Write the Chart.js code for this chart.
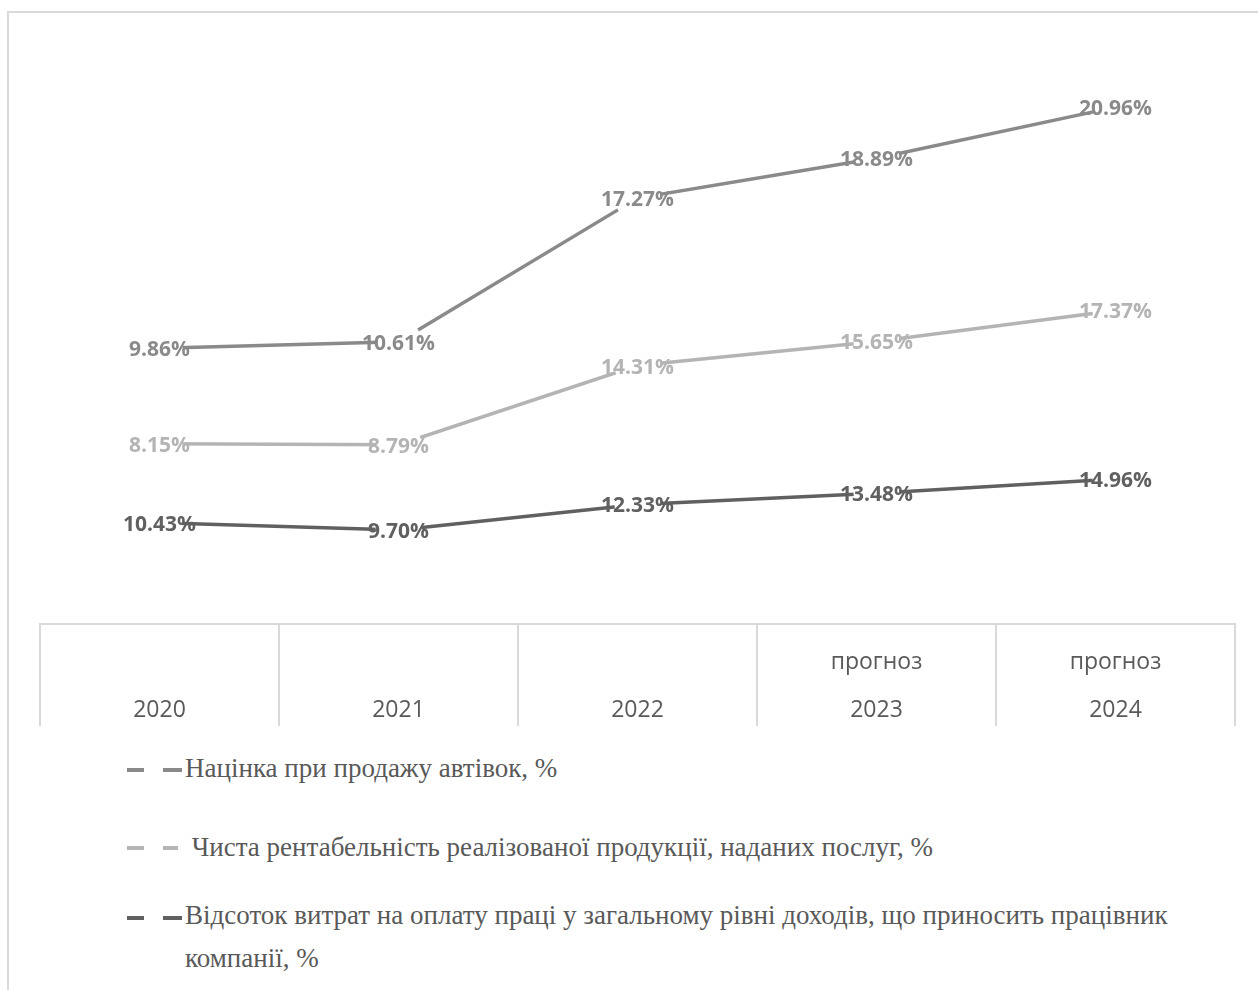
<!DOCTYPE html>
<html lang="uk">
<head>
  <meta charset="utf-8"/>
  <title>Націнка, рентабельність і витрати на оплату праці</title>
  <script src="https://cdn.jsdelivr.net/npm/chart.js"></script>
  <style>
    html, body { margin: 0; padding: 0; background: #fff; overflow: hidden; }
    body { width: 1258px; height: 990px; position: relative; }
    .frame { position: absolute; left: 7px; top: 11px; width: 1400px; height: 1200px;
             border: 2px solid #d9d9d9; }
    #chart { position: absolute; left: 0; top: 0; }
    .legend-item { position: absolute; left: 127px; width: 1060px; }
    .legend-item .dash { position: absolute; height: 4px; }
    .legend-item .txt { position: absolute; left: 58px; width: 990px;
      font-family: "Liberation Serif", "Times New Roman", serif; font-size: 27px;
      line-height: 43px; color: #595959; }
  </style>
</head>
<body>
  <div class="frame"></div>
  <canvas id="chart" width="1258" height="740"></canvas>
  <div id="legend"></div>

  <script>
  // ── DATA ─────────────────────────────────────────
  const years      = ['2020', '2021', '2022', '2023', '2024'];
  const yearNotes  = ['', '', '', 'прогноз', 'прогноз'];
  const markup     = [9.86, 10.61, 17.27, 18.89, 20.96];
  const netMargin  = [8.15, 8.79, 14.31, 15.65, 17.37];
  const laborShare = [10.43, 9.70, 12.33, 13.48, 14.96];
  const seriesNames = [
    'Націнка при продажу автівок, %',
    ' Чиста рентабельність реалізованої продукції, наданих послуг, %',
    'Відсоток витрат на оплату праці у загальному рівні доходів, що приносить працівник компанії, %'
  ];
  const seriesColors = ['#8a8a8a', '#b4b4b4', '#606060'];
  // ──────────────────────────────────────────────────

  function lineSet(label, data, color) {
    return {
      label, data,
      borderColor: color,
      borderWidth: 3.5,
      fill: false,
      tension: 0,
      pointRadius: 23,
      pointHoverRadius: 23,
      pointBorderWidth: 0,
      pointBackgroundColor: '#fff'
    };
  }

  // value labels centred on each point
  const valueLabels = {
    id: 'valueLabels',
    afterDatasetsDraw(chart) {
      const ctx = chart.ctx;
      ctx.save();
      ctx.font = 'bold 21px "Open Sans"';
      ctx.textAlign = 'center';
      ctx.textBaseline = 'middle';
      chart.data.datasets.forEach((ds, di) => {
        chart.getDatasetMeta(di).data.forEach((pt, i) => {
          ctx.fillStyle = ds.borderColor;
          ctx.fillText(ds.data[i].toFixed(2) + '%', pt.x, pt.y + 2);
        });
      });
      ctx.restore();
    }
  };

  // stacked bottom → top: labour share, net margin, markup
  const chart = new Chart(document.getElementById('chart'), {
    type: 'line',
    data: {
      labels: years.map((y, i) => [yearNotes[i], y]),
      datasets: [
        lineSet(seriesNames[2], laborShare, seriesColors[2]),
        lineSet(seriesNames[1], netMargin, seriesColors[1]),
        lineSet(seriesNames[0], markup, seriesColors[0])
      ]
    },
    options: {
      responsive: false,
      animation: false,
      layout: { padding: { left: 40, right: 21, top: 42, bottom: 3 } },
      plugins: { legend: { display: false }, tooltip: { enabled: false } },
      scales: {
        x: {
          offset: true,
          grid: { offset: true, drawOnChartArea: false, tickLength: 102,
                  color: '#d9d9d9', lineWidth: 2 },
          border: { display: true, color: '#d9d9d9', width: 2 },
          ticks: { color: '#595959', padding: -88, maxRotation: 0, autoSkip: false,
                   font: { family: 'Open Sans', size: 23, lineHeight: '48px' } },
          // empty title only to give the label band room (labels are clipped to the scale box)
          title: { display: true, text: ' ', font: { size: 1, lineHeight: '1px' },
                   padding: { top: 90, bottom: 0 } }
        },
        y: { display: false, stacked: true, min: 0, max: 60 }
      }
    },
    plugins: [valueLabels]
  });

  // legend below the chart
  const legendTops = [747, 826, 894];
  const dashTops   = [768, 846, 916];
  const legend = document.getElementById('legend');
  [2, 1, 0].forEach((di, k) => {
    const ds = chart.data.datasets[di];
    const item = document.createElement('div');
    item.className = 'legend-item';
    item.style.top = '0px';
    item.innerHTML =
      `<span class="dash" style="left:0;width:17px;top:${dashTops[k]}px;background:${ds.borderColor}"></span>` +
      `<span class="dash" style="left:36px;width:${k === 1 ? 15 : 19}px;top:${dashTops[k]}px;background:${ds.borderColor}"></span>` +
      `<div class="txt" style="top:${legendTops[k]}px">${ds.label.replace(/^ /, '&nbsp;')}</div>`;
    legend.appendChild(item);
  });
  </script>
</body>
</html>
